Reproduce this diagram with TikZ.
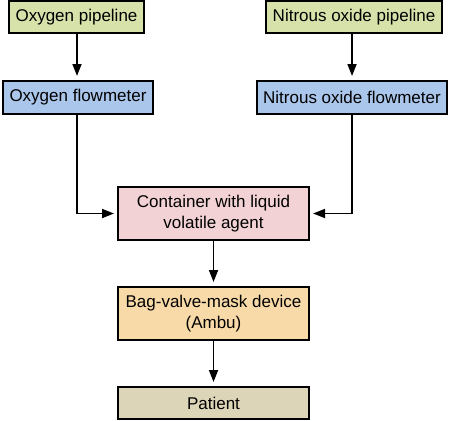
\documentclass[tikz,border=0pt]{standalone}
\usepackage{fontspec}
\setmainfont{Liberation Sans}
\usetikzlibrary{arrows.meta}
\definecolor{cgreen}{RGB}{215,226,170}
\definecolor{cblue}{RGB}{170,198,235}
\definecolor{cpink}{RGB}{242,210,212}
\definecolor{corange}{RGB}{248,218,168}
\definecolor{ctan}{RGB}{221,213,184}
\tikzset{
  box/.style={draw=black, line width=2pt, rectangle, inner sep=0pt, align=center,
    font=\fontsize{17}{20.5}\selectfont},
  flow/.style={line width=1.7pt, -{Triangle[length=12pt,width=9pt]}, shorten >=4pt}
}
\begin{document}
\begin{tikzpicture}[x=1pt,y=-1pt]
\useasboundingbox (0,0) rectangle (449,420);
\node[box, fill=cgreen, minimum width=135pt, minimum height=32pt] (o2p) at (76.5,17) {Oxygen pipeline};
\node[box, fill=cgreen, minimum width=176pt, minimum height=32pt] (n2p) at (354,17) {Nitrous oxide pipeline};
\node[box, fill=cblue, minimum width=150pt, minimum height=33pt] (o2f) at (78,97.5) {Oxygen flowmeter};
\node[box, fill=cblue, minimum width=190pt, minimum height=33pt] (n2f) at (352,97.5) {Nitrous oxide flowmeter};
\node[box, fill=cpink, minimum width=191pt, minimum height=53pt] (cont) at (213.5,213.5) {Container with liquid\\volatile agent};
\node[box, fill=corange, minimum width=191pt, minimum height=53pt] (bag) at (213.5,313.5) {Bag-valve-mask device\\(Ambu)};
\node[box, fill=ctan, minimum width=191pt, minimum height=32pt] (pat) at (213.5,403) {Patient};
\coordinate (lx) at (77,0);
\coordinate (rx) at (352,0);
\draw[flow] (lx |- o2p.south) -- (lx |- o2f.north);
\draw[flow] (rx |- n2p.south) -- (rx |- n2f.north);
\draw[flow, shorten >=3pt] (lx |- o2f.south) -- (lx |- cont.west) -- (cont.west);
\draw[flow, shorten >=3pt] (rx |- n2f.south) -- (rx |- cont.east) -- (cont.east);
\draw[flow] (cont.south) -- (bag.north);
\draw[flow] (bag.south) -- (pat.north);
\end{tikzpicture}
\end{document}
